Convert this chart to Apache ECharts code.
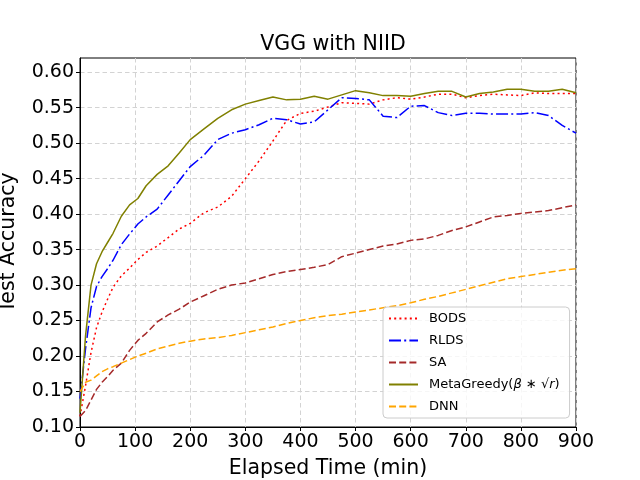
<!DOCTYPE html>
<html>
<head>
<meta charset="utf-8">
<title>VGG with NIID</title>
<script src="https://cdn.jsdelivr.net/npm/echarts@6/dist/echarts.min.js"></script>
<style>
  html, body { margin: 0; padding: 0; background: #fff; }
  #chart { width: 640px; height: 480px; }
</style>
</head>
<body>
<div id="chart"></div>
<script>
// elapsed time (min) of each sample
var times = [0, 10, 20, 30, 40, 50, 60, 75, 90, 105, 120, 140, 160, 180, 200, 225, 250, 275, 300,
  325, 350, 375, 400, 425, 450, 475, 500, 525, 550, 575, 600, 625, 650, 675, 700, 725, 750,
  775, 800, 825, 850, 875, 900];

var bods = [0.115, 0.158, 0.205, 0.240, 0.262, 0.280, 0.297, 0.313, 0.324, 0.336, 0.346, 0.355, 0.367,
  0.379, 0.387, 0.402, 0.410, 0.425, 0.450, 0.475, 0.503, 0.532, 0.542, 0.545, 0.551, 0.557, 0.556,
  0.555, 0.561, 0.564, 0.562, 0.565, 0.569, 0.569, 0.564, 0.567, 0.569, 0.568, 0.567, 0.571, 0.570,
  0.570, 0.570];

var rlds = [0.140, 0.210, 0.268, 0.298, 0.312, 0.323, 0.335, 0.357, 0.372, 0.386, 0.396, 0.407, 0.427,
  0.447, 0.467, 0.483, 0.505, 0.514, 0.519, 0.526, 0.535, 0.533, 0.527, 0.530, 0.547, 0.564, 0.563,
  0.561, 0.538, 0.536, 0.552, 0.553, 0.543, 0.539, 0.542, 0.542, 0.541, 0.541, 0.541, 0.543, 0.539,
  0.525, 0.514];

var sa = [0.115, 0.123, 0.138, 0.153, 0.163, 0.171, 0.180, 0.190, 0.208, 0.222, 0.232, 0.248, 0.258,
  0.266, 0.276, 0.285, 0.294, 0.300, 0.303, 0.309, 0.315, 0.319, 0.322, 0.325, 0.329, 0.340, 0.345,
  0.350, 0.355, 0.358, 0.363, 0.365, 0.370, 0.377, 0.382, 0.389, 0.396, 0.398, 0.401, 0.403, 0.405,
  0.409, 0.413];

var metaGreedy = [0.120, 0.228, 0.300, 0.330, 0.347, 0.360, 0.373, 0.397, 0.413, 0.422, 0.440, 0.456,
  0.468, 0.486, 0.505, 0.520, 0.535, 0.547, 0.555, 0.560, 0.565, 0.561, 0.562, 0.566, 0.562, 0.568,
  0.574, 0.571, 0.567, 0.567, 0.566, 0.570, 0.573, 0.573, 0.565, 0.570, 0.572, 0.576, 0.576, 0.573,
  0.573, 0.576, 0.571];

var dnn = [0.150, 0.163, 0.166, 0.172, 0.178, 0.182, 0.185, 0.190, 0.195, 0.200, 0.204, 0.210, 0.214,
  0.218, 0.221, 0.224, 0.226, 0.229, 0.233, 0.237, 0.241, 0.246, 0.250, 0.254, 0.257, 0.259, 0.262,
  0.265, 0.268, 0.271, 0.275, 0.280, 0.284, 0.289, 0.294, 0.299, 0.304, 0.309, 0.312, 0.315, 0.318,
  0.321, 0.323];

var xTicks = [0, 100, 200, 300, 400, 500, 600, 700, 800, 900];
var yTicks = [0.10, 0.15, 0.20, 0.25, 0.30, 0.35, 0.40, 0.45, 0.50, 0.55, 0.60];

function pairs(vals) {
  return times.map(function (t, i) { return [t, vals[i]]; });
}

var font = 'DejaVu Sans';

function line(name, vals, color, dash) {
  return {
    name: name,
    type: 'line',
    data: pairs(vals),
    symbol: 'none',
    animation: false,
    lineStyle: { color: color, width: 1.5, type: dash },
    itemStyle: { color: color }
  };
}

var chart = echarts.init(document.getElementById('chart'));
var option = {
  backgroundColor: '#fff',
  animation: false,
  title: {
    text: 'VGG with NIID',
    left: 328,
    top: 29,
    textAlign: 'center',
    textStyle: { fontFamily: font, fontSize: 20.5, fontWeight: 'normal', color: '#000' }
  },
  grid: {
    left: 80, right: 64, top: 58, bottom: 53,
    outerBoundsMode: 'none',
    containLabel: false,
    show: true, borderColor: '#000', borderWidth: 1
  },
  legend: {
    orient: 'vertical',
    left: 383,
    top: 307,
    padding: [5, 10, 5, 5],
    itemWidth: 29,
    itemHeight: 14,
    itemGap: 9,
    backgroundColor: 'rgba(255,255,255,0.8)',
    borderColor: '#cccccc',
    borderWidth: 1,
    borderRadius: 4,
    itemStyle: { opacity: 0 },
    textStyle: {
      fontFamily: font, fontSize: 13, color: '#000', padding: [0, 0, 0, 6],
      rich: { it: { fontFamily: font, fontSize: 13, fontStyle: 'italic', color: '#000' } }
    },
    formatter: function (name) {
      if (name === 'MetaGreedy') return 'MetaGreedy({it|β} ∗ √{it|r})';
      return name;
    },
    data: ['BODS', 'RLDS', 'SA', 'MetaGreedy', 'DNN']
  },
  xAxis: {
    type: 'value',
    min: 0, max: 900, interval: 100,
    name: 'Elapsed Time (min)',
    nameLocation: 'middle',
    nameGap: 31,
    nameTextStyle: { fontFamily: font, fontSize: 20.5, color: '#000' },
    axisLine: { lineStyle: { color: '#000', width: 1 } },
    axisTick: { show: true, length: 4, lineStyle: { color: '#000' }, customValues: xTicks },
    axisLabel: { fontFamily: font, fontSize: 19, color: '#000', margin: 6, customValues: xTicks },
    splitLine: { show: true, lineStyle: { color: '#d3d3d3', width: 1, type: [4.5, 3] } }
  },
  yAxis: {
    type: 'value',
    min: 0.1, max: 0.62, interval: 0.05,
    name: 'Test Accuracy',
    nameLocation: 'middle',
    nameGap: 61,
    nameTextStyle: { fontFamily: font, fontSize: 20.5, color: '#000' },
    axisLine: { show: true, lineStyle: { color: '#000', width: 1 } },
    axisTick: { show: true, length: 4, lineStyle: { color: '#000' }, customValues: yTicks },
    axisLabel: {
      fontFamily: font, fontSize: 19, color: '#000', margin: 6, customValues: yTicks,
      formatter: function (v) { return v.toFixed(2); }
    },
    splitLine: { show: true, lineStyle: { color: '#d3d3d3', width: 1, type: [4.5, 3] } }
  },
  series: [
    line('BODS', bods, '#ff0000', [2, 3.2]),
    line('RLDS', rlds, '#0000ff', [12, 3.2, 2, 3.2]),
    line('SA', sa, '#a52a2a', [7, 3.2]),
    line('MetaGreedy', metaGreedy, '#808000', 'solid'),
    line('DNN', dnn, '#ffa500', [7, 3.2])
  ]
};
chart.setOption(option);

window.addEventListener('resize', function () {
  chart.resize();
});
</script>
</body>
</html>
